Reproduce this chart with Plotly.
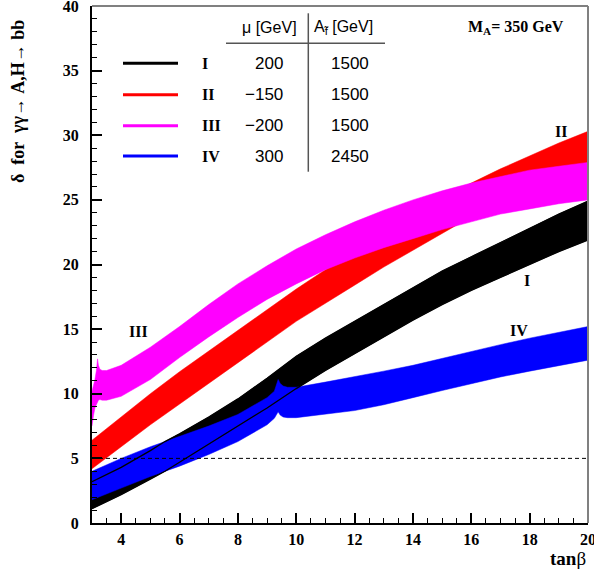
import plotly.graph_objects as go

# ---------------- data ----------------
# Band I  (mu=200, A=1500)
x_I = [3, 4, 5, 5.5, 6, 7, 8, 9, 10, 11, 12, 13, 14, 15, 16, 17, 18, 19, 20]
up_I = [3.2, 4.3, 5.6, 6.3, 6.9, 8.2, 9.6, 11.2, 12.9, 14.3, 15.6, 16.9, 18.2, 19.5, 20.6, 21.7, 22.8, 23.9, 24.9]
lo_I = [1.1, 2.2, 3.4, 4.0, 4.7, 6.1, 7.5, 8.9, 10.4, 11.8, 13.1, 14.4, 15.7, 16.9, 18.0, 19.0, 20.0, 21.0, 21.9]

# Band II (mu=-150, A=1500)
x_II = [3, 4, 5, 6, 7, 8, 9, 10, 11, 12, 13, 14, 15, 16, 17, 18, 19, 20]
up_II = [6.4, 8.2, 10.0, 11.7, 13.3, 14.9, 16.5, 18.1, 19.6, 21.0, 22.4, 23.8, 25.1, 26.3, 27.4, 28.4, 29.4, 30.3]
lo_II = [4.2, 5.9, 7.6, 9.2, 10.8, 12.4, 14.0, 15.6, 17.0, 18.4, 19.8, 21.1, 22.4, 23.7, 24.8, 25.9, 26.9, 27.9]

# Band III (mu=-200, A=1500)
x_III = [3.0, 3.05, 3.1, 3.15, 3.19, 3.22, 3.27, 3.35, 3.5, 4, 5, 6, 7, 8, 9, 10, 11, 12, 13, 14, 15, 16, 17, 18, 19, 20]
up_III = [10.2, 10.6, 11.1, 11.8, 12.7, 12.2, 11.9, 11.8, 11.8, 12.2, 13.6, 15.2, 16.9, 18.5, 19.9, 21.2, 22.3, 23.3, 24.2, 25.0, 25.7, 26.3, 26.8, 27.3, 27.6, 27.9]
lo_III = [7.5, 8.3, 8.9, 9.25, 9.35, 9.5, 9.55, 9.5, 9.5, 9.8, 11.1, 12.8, 14.4, 15.9, 17.3, 18.5, 19.6, 20.5, 21.3, 22.0, 22.7, 23.3, 23.9, 24.3, 24.7, 25.0]

# Band IV (mu=300, A=2450)
x_IV = [3, 4, 5, 5.5, 6, 7, 8, 9, 9.25, 9.38, 9.45, 9.55, 9.7, 10, 11, 12, 13, 14, 15, 16, 17, 18, 19, 20]
up_IV = [4.0, 5.0, 5.9, 6.3, 6.7, 7.5, 8.4, 9.7, 10.2, 11.1, 10.8, 10.6, 10.5, 10.5, 10.9, 11.3, 11.75, 12.2, 12.75, 13.3, 13.8, 14.3, 14.75, 15.2]
lo_IV = [1.8, 2.7, 3.6, 4.0, 4.4, 5.3, 6.3, 7.6, 8.1, 8.6, 8.35, 8.2, 8.15, 8.15, 8.4, 8.7, 9.15, 9.7, 10.25, 10.8, 11.3, 11.75, 12.2, 12.6]

band_names = ["I", "II", "III", "IV"]
mu_vals = ["200", "\u2212150", "\u2212200", "300"]
a_vals = ["1500", "1500", "1500", "2450"]
colors = ["#000000", "#ff0000", "#ff00ff", "#0000ff"]

x_ticks = [4, 6, 8, 10, 12, 14, 16, 18, 20]
y_ticks = [0, 5, 10, 15, 20, 25, 30, 35, 40]

SERIF = "Liberation Serif"
SANS = "Liberation Sans"

fig = go.Figure()


def band(x, up, lo, color):
    fig.add_trace(go.Scatter(
        x=list(x) + list(reversed(x)),
        y=list(up) + list(reversed(lo)),
        fill="toself", fillcolor=color, mode="lines",
        line=dict(color=color, width=0.5), hoverinfo="skip"))


band(x_I, up_I, lo_I, colors[0])
band(x_II, up_II, lo_II, colors[1])
band(x_III, up_III, lo_III, colors[2])
band(x_IV, up_IV, lo_IV, colors[3])

# outline of band I drawn on top
fig.add_trace(go.Scatter(x=x_I, y=up_I, mode="lines", line=dict(color="black", width=1.3), hoverinfo="skip"))
fig.add_trace(go.Scatter(x=x_I, y=lo_I, mode="lines", line=dict(color="black", width=1.3), hoverinfo="skip"))

axis_common = dict(
    showgrid=False, zeroline=False, showline=True, linecolor="black", linewidth=2,
    ticks="inside", ticklen=10, tickwidth=1.5, tickcolor="black", automargin=False,
    ticklabeloverflow="allow",
    tickfont=dict(family=SERIF, size=16, color="black", weight="bold"),
)

fig.update_layout(
    width=594, height=573,
    margin=dict(l=92, r=6, t=6, b=50, autoexpand=False),
    plot_bgcolor="white", paper_bgcolor="white",
    showlegend=False,
    xaxis=dict(range=[3, 20], tickvals=x_ticks, ticktext=[str(v) for v in x_ticks],
               minor=dict(dtick=0.5, tick0=3, ticklen=5, ticks="inside", tickcolor="black", tickwidth=1.2),
               ticklabelstandoff=1, **axis_common),
    yaxis=dict(range=[0, 40], tickvals=y_ticks, ticktext=[str(v) for v in y_ticks],
               minor=dict(dtick=1, tick0=0, ticklen=5, ticks="inside", tickcolor="black", tickwidth=1.2),
               ticklabelstandoff=8, **axis_common),
)

shapes = []
# gray frame top/right
shapes.append(dict(type="line", xref="paper", yref="paper", x0=0, x1=1, y0=1, y1=1, line=dict(color="#808080", width=2)))
shapes.append(dict(type="line", xref="paper", yref="paper", x0=1, x1=1, y0=0, y1=1, line=dict(color="#808080", width=2)))
# dashed line delta = 5
shapes.append(dict(type="line", xref="x", yref="y", x0=3, x1=20, y0=5, y1=5, line=dict(color="black", width=1, dash="4px,3px")))


def px2x(px):
    return (px - 92) / 496


def py2y(py):
    return (523 - py) / 517


# legend table
leg_py = [63.3, 94.7, 125.7, 156]
for i in range(4):
    yp = py2y(leg_py[i])
    shapes.append(dict(type="line", xref="paper", yref="paper", x0=px2x(123), x1=px2x(178), y0=yp, y1=yp,
                       line=dict(color=colors[i], width=3)))
    fig.add_annotation(xref="paper", yref="paper", x=px2x(200), y=yp, text="<b>%s</b>" % band_names[i],
                       showarrow=False, xanchor="left", yanchor="middle",
                       font=dict(family=SERIF, size=16, color="black"))
    fig.add_annotation(xref="paper", yref="paper", x=px2x(285), y=yp, text=mu_vals[i],
                       showarrow=False, xanchor="right", yanchor="middle",
                       font=dict(family=SANS, size=17, color="black"))
    fig.add_annotation(xref="paper", yref="paper", x=px2x(371), y=yp, text=a_vals[i],
                       showarrow=False, xanchor="right", yanchor="middle",
                       font=dict(family=SANS, size=17, color="black"))

fig.add_annotation(xref="paper", yref="paper", x=px2x(299), y=py2y(27), text="\u03bc [GeV]",
                   showarrow=False, xanchor="right", yanchor="middle", font=dict(family=SANS, size=16, color="black"))
fig.add_annotation(xref="paper", yref="paper", x=px2x(312), y=py2y(27), text="A<sub>f\u0303</sub> [GeV]",
                   showarrow=False, xanchor="left", yanchor="middle", font=dict(family=SANS, size=16, color="black"))
shapes.append(dict(type="line", xref="paper", yref="paper", x0=px2x(226), x1=px2x(385), y0=py2y(43.3), y1=py2y(43.3),
                   line=dict(color="#555555", width=1.5)))
shapes.append(dict(type="line", xref="paper", yref="paper", x0=px2x(308.3), x1=px2x(308.3), y0=py2y(13.3), y1=py2y(171.7),
                   line=dict(color="#555555", width=1.5)))

# M_A label
fig.add_annotation(xref="paper", yref="paper", x=px2x(566), y=py2y(28), text="<b>M<sub>A</sub>= 350 GeV</b>",
                   showarrow=False, xanchor="right", yanchor="middle", font=dict(family=SERIF, size=16, color="black"))

# band labels
for txt, xx, yy in [("III", 4.59, 14.8), ("II", 19.09, 30.3), ("I", 17.9, 18.8), ("IV", 17.63, 14.9)]:
    fig.add_annotation(x=xx, y=yy, text="<b>%s</b>" % txt, showarrow=False, xanchor="center", yanchor="middle",
                       font=dict(family=SERIF, size=16, color="black"))

# axis titles
fig.add_annotation(xref="paper", yref="paper", x=px2x(18), y=py2y(102),
                   text="<b>\u03b4  for  \u03b3\u03b3\u2192 A,H\u2192 bb</b>", textangle=-90,
                   showarrow=False, xanchor="center", yanchor="middle", font=dict(family=SERIF, size=18, color="black"))
fig.add_annotation(xref="paper", yref="paper", x=px2x(588), y=py2y(558), text="<b>tan</b>\u03b2",
                   showarrow=False, xanchor="right", yanchor="middle", font=dict(family=SERIF, size=19, color="black"))

fig.update_layout(shapes=shapes)
fig.write_html("out.html", config={"displayModeBar": False},
               post_script="document.body.style.margin='0px';document.body.style.overflow='hidden';")
